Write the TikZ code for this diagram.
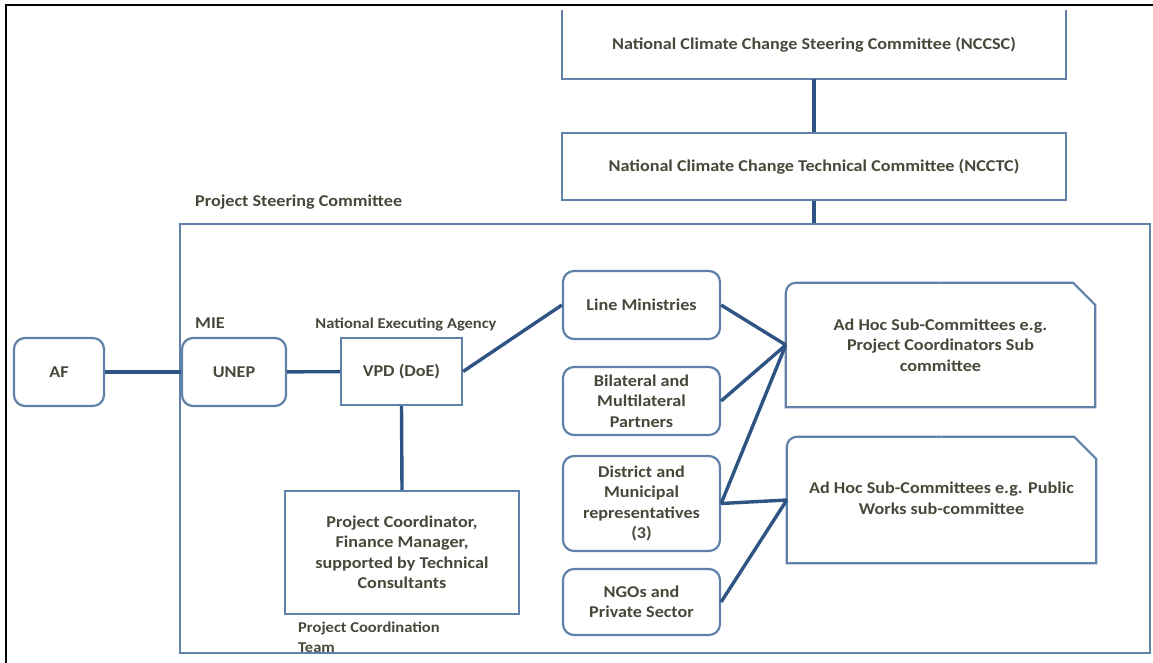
\documentclass[tikz,border=0pt]{standalone}
\usepackage{fontspec}
\setmainfont{Carlito}[FakeStretch=1.1]
\usetikzlibrary{calc}
\definecolor{boxc}{RGB}{96,130,170}
\definecolor{connc}{RGB}{46,84,132}
\definecolor{textc}{RGB}{72,72,58}
\begin{document}
\begin{tikzpicture}[x=1pt,y=-1pt,
  txt/.style={font=\fontsize{16.5}{20.5}\selectfont\bfseries, text=textc},
  box/.style={txt, draw=boxc, line width=2.2pt, fill=white, align=center, inner sep=0pt},
  rbox/.style={box, rounded corners=11pt},
  ghost/.style={txt, draw=none, align=center, inner sep=0pt},
  outline/.style={draw=boxc, line width=2.2pt},
  conn/.style={draw=connc, line width=3.4pt},
  lbl/.style={txt, inner sep=0pt, align=left},
  smalllbl/.style={lbl, font=\fontsize{15}{20}\selectfont\bfseries}
]
\useasboundingbox (0,0) rectangle (1153,662);
% outer black frame (cropped)
\draw[black, line width=2.6pt] (6,670) -- (6,5) -- (1160,5);

% top committees
\node[ghost, minimum width=504pt, minimum height=69pt] (nccsc) at (814,44.5) {National Climate Change Steering Committee (NCCSC)};
\draw[outline] (nccsc.north west) -- (nccsc.south west) -- (nccsc.south east) -- (nccsc.north east);
\node[box, minimum width=504pt, minimum height=67pt] (ncctc) at (814,166.5) {\raisebox{-4pt}{National Climate Change Technical Committee (NCCTC)}};
\draw[conn] (nccsc.south) -- (ncctc.north);

% project steering committee frame
\node[draw=boxc, line width=2.4pt, minimum width=970pt, minimum height=429pt, inner sep=0pt] (psc) at (665,438.5) {};
\coordinate (psctop) at (ncctc.south |- psc.north);
\draw[conn] (ncctc.south) -- (psctop);
\node[lbl, anchor=west] (psclbl) at (195,202) {Project Steering Committee};

% left chain
\node[rbox, minimum width=90pt, minimum height=68pt] (af) at (59,372) {AF};
\node[rbox, minimum width=104pt, minimum height=68pt] (unep) at (234,372) {UNEP};
\node[box, minimum width=121pt, minimum height=67pt] (vpd) at (401.5,371.5) {VPD (DoE)};
\node[lbl, anchor=west] (mie) at (195,323) {MIE};
\node[smalllbl, fill=white, inner sep=2pt] (nea) at (406,324) {National Executing Agency};
\draw[conn] (af) -- (unep);
\draw[conn] (unep) -- (vpd);

% project coordination
\node[box, minimum width=234pt, minimum height=123pt] (pc) at (402,552.5) {Project Coordinator,\\Finance Manager,\\supported by Technical\\Consultants};
\node[smalllbl, anchor=north west] (pct) at (298,622) {Project Coordination\\Team};
\draw[conn] (vpd.south) -- (pc.north);

% stakeholder boxes
\node[rbox, minimum width=157pt, minimum height=68pt] (lm) at (641.5,305) {Line Ministries};
\node[rbox, minimum width=157pt, minimum height=68pt] (bi) at (641.5,401) {Bilateral and\\Multilateral\\Partners};
\node[rbox, minimum width=157pt, minimum height=95pt] (di) at (641.5,503.5) {District and\\Municipal\\representatives\\(3)};
\node[rbox, minimum width=157pt, minimum height=66pt] (ngo) at (641.5,602) {NGOs and\\Private Sector};

% ad hoc sub-committees
\node[ghost, minimum width=309pt, minimum height=124pt] (ah1) at (940.5,345) {Ad Hoc Sub-Committees e.g.\\Project Coordinators Sub\\committee};
\node[ghost, minimum width=309pt, minimum height=126pt] (ah2) at (941.5,500) {\raisebox{-6pt}{\begin{tabular}{@{}c@{}}Ad Hoc Sub-Committees e.g. Public\\Works sub-committee\end{tabular}}};
\foreach \a in {ah1,ah2}{
  \draw[outline, rounded corners=10pt] (\a.west) -- (\a.north west) -- (\a.north);
  \draw[outline] (\a.north) -- ([xshift=-22pt]\a.north east) -- ([yshift=-22pt]\a.north east) -- (\a.south east) -- (\a.south west) -- (\a.west);
}

% connectors
\draw[conn] (vpd.east) -- (lm.west);
\draw[conn] (lm.east) -- (ah1.west);
\draw[conn] (bi.east) -- (ah1.west);
\draw[conn] (di.east) -- (ah1.west);
\draw[conn] (di.east) -- (ah2.west);
\draw[conn] (ngo.east) -- (ah2.west);
\end{tikzpicture}
\end{document}
